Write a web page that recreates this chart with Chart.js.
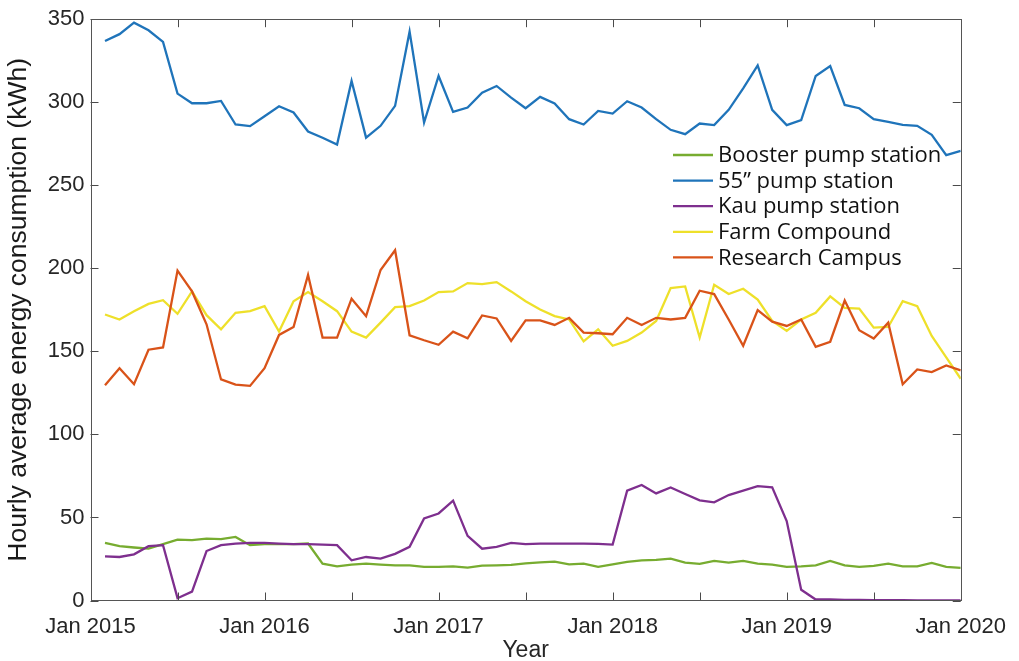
<!DOCTYPE html>
<html>
<head>
<meta charset="utf-8">
<title>Hourly average energy consumption</title>
<script src="https://cdn.jsdelivr.net/npm/chart.js@4.4.1/dist/chart.umd.min.js"></script>
<style>
  html, body { margin: 0; padding: 0; background: #ffffff; }
  #wrap { width: 1019px; height: 661px; }
</style>
</head>
<body>
<div id="wrap"><canvas id="chart" width="1019" height="661"></canvas></div>
<script>
// Monthly readings, Feb 2015 .. Jan 2020 (month index counted from Jan 2015)
const firstMonth = 1;
const yearLabels = ['Jan 2015', 'Jan 2016', 'Jan 2017', 'Jan 2018', 'Jan 2019', 'Jan 2020'];
const seriesNames = ['Booster pump station', '55\u201D pump station', 'Kau pump station', 'Farm Compound', 'Research Campus'];

const boosterPump = [
  34.7, 32.7, 31.9, 31.2, 33.9, 36.7, 36.3, 37.3, 36.9, 38.3, 33.3, 33.9,
  33.9, 33.9, 34.3, 22.2, 20.6, 21.6, 22.2, 21.6, 21.1, 21.2, 20.2, 20.2,
  20.6, 19.8, 21.0, 21.2, 21.4, 22.4, 23.0, 23.4, 21.8, 22.2, 20.2, 21.8,
  23.2, 24.2, 24.4, 25.2, 22.8, 22.0, 23.8, 22.8, 23.8, 22.2, 21.6, 20.2,
  20.6, 21.2, 23.8, 21.2, 20.2, 20.8, 22.2, 20.6, 20.6, 22.6, 20.2, 19.6
];
const pump55 = [
  336.9, 341.0, 347.9, 343.3, 336.3, 305.2, 299.4, 299.4, 300.8, 286.6, 285.6, 291.6,
  297.6, 293.8, 282.4, 278.6, 274.5, 312.8, 278.7, 285.8, 297.8, 342.5, 287.8, 315.8,
  294.2, 296.8, 305.8, 309.8, 302.8, 296.4, 303.2, 299.2, 289.8, 286.6, 294.8, 293.2,
  300.6, 296.8, 289.8, 283.4, 280.8, 287.2, 286.2, 295.4, 308.4, 322.2, 295.4, 286.2,
  289.2, 315.8, 321.8, 298.4, 296.4, 289.8, 288.2, 286.4, 285.8, 280.4, 268.2, 270.7
];
const kauPump = [
  26.6, 26.2, 27.8, 32.7, 33.3, 1.4, 5.4, 29.8, 33.3, 34.3, 34.7, 34.7,
  34.3, 33.9, 33.9, 33.7, 33.3, 24.2, 26.2, 25.2, 28.1, 32.3, 49.4, 52.4,
  60.1, 38.9, 31.2, 32.3, 34.7, 33.9, 34.3, 34.3, 34.3, 34.3, 34.1, 33.7,
  66.1, 69.6, 64.5, 68.1, 64.1, 60.3, 59.1, 63.5, 66.1, 68.9, 68.1, 47.8,
  6.5, 0.6, 0.6, 0.4, 0.4, 0.2, 0.2, 0.2, 0.1, 0.1, 0.1, 0.1
];
const farmCompound = [
  172.2, 169.2, 174.2, 178.6, 180.8, 172.6, 186.1, 171.8, 163.3, 173.2, 174.2, 177.2,
  161.9, 180.2, 185.7, 180.2, 174.2, 161.9, 158.3, 167.3, 176.6, 177.2, 180.6, 185.7,
  186.1, 191.1, 190.5, 191.7, 186.1, 180.2, 175.2, 171.2, 169.2, 156.0, 163.3, 153.4,
  156.3, 161.3, 168.3, 188.1, 189.1, 158.3, 190.1, 184.5, 187.7, 181.2, 168.3, 162.3,
  169.2, 173.2, 183.1, 176.2, 175.8, 164.3, 164.7, 180.2, 177.2, 159.3, 146.4, 133.5
];
const researchCampus = [
  129.6, 139.9, 130.2, 151.0, 152.4, 198.6, 186.1, 166.3, 133.1, 130.0, 129.2, 139.9,
  159.9, 164.7, 196.0, 158.3, 158.3, 181.7, 171.2, 199.0, 210.9, 159.7, 156.7, 154.0,
  161.9, 157.9, 171.6, 169.8, 156.3, 168.7, 168.7, 165.9, 170.2, 161.3, 160.9, 160.3,
  170.2, 165.9, 170.2, 169.2, 170.2, 186.5, 184.5, 169.2, 153.4, 174.8, 167.9, 165.3,
  169.2, 152.8, 155.8, 180.6, 162.7, 157.7, 167.3, 130.2, 139.1, 137.5, 141.5, 138.5
];

const seriesColors = ['#77AC30', '#1F74BA', '#7E2F8E', '#EEE02A', '#D95319'];
const allSeries = [boosterPump, pump55, kauPump, farmCompound, researchCampus];

function toPoints(values) {
  return values.map((v, i) => ({ x: firstMonth + i, y: v }));
}

// Axes box with inward ticks on all four sides
const axesBox = {
  id: 'axesBox',
  afterDatasetsDraw(chart) {
    const { ctx, chartArea: a, scales: { x, y } } = chart;
    const len = 8;
    ctx.save();
    ctx.strokeStyle = '#4a4a4a';
    ctx.lineWidth = 1;
    ctx.beginPath();
    x.ticks.forEach(t => {
      const px = Math.round(x.getPixelForValue(t.value)) + 0.5;
      ctx.moveTo(px, a.bottom); ctx.lineTo(px, a.bottom - len);
      ctx.moveTo(px, a.top); ctx.lineTo(px, a.top + len);
    });
    y.ticks.forEach(t => {
      const py = Math.round(y.getPixelForValue(t.value)) + 0.5;
      ctx.moveTo(a.left, py); ctx.lineTo(a.left + len, py);
      ctx.moveTo(a.right, py); ctx.lineTo(a.right - len, py);
    });
    ctx.stroke();
    ctx.strokeStyle = '#555555';
    ctx.strokeRect(Math.round(a.left) + 0.5, Math.round(a.top) + 0.5,
                   Math.round(a.right - a.left), Math.round(a.bottom - a.top));
    ctx.restore();
  }
};

// Legend drawn inside the plot area, right of centre
const insideLegend = {
  id: 'insideLegend',
  afterDraw(chart) {
    const { ctx } = chart;
    const x0 = 673, x1 = 713, tx = 718, top = 155, step = 25.6;
    ctx.save();
    ctx.font = '22px "Open Sans", sans-serif';
    ctx.textBaseline = 'middle';
    chart.data.datasets.forEach((ds, i) => {
      const yy = top + i * step;
      ctx.strokeStyle = ds.borderColor;
      ctx.lineWidth = 2.3;
      ctx.beginPath(); ctx.moveTo(x0, yy); ctx.lineTo(x1, yy); ctx.stroke();
      ctx.fillStyle = '#111111';
      ctx.fillText(ds.label, tx, yy + 1);
    });
    ctx.restore();
  }
};

new Chart(document.getElementById('chart'), {
  type: 'line',
  data: {
    datasets: allSeries.map((vals, i) => ({
      label: seriesNames[i],
      data: toPoints(vals),
      borderColor: seriesColors[i],
      backgroundColor: seriesColors[i],
      borderWidth: 2.3,
      pointRadius: 0,
      tension: 0,
      order: -i
    }))
  },
  options: {
    responsive: false,
    animation: false,
    devicePixelRatio: 1,
    layout: { padding: { top: 17.5, right: 46.3, left: 0, bottom: 0 } },
    plugins: { legend: { display: false }, tooltip: { enabled: false } },
    scales: {
      x: {
        type: 'linear',
        min: 0,
        max: 60,
        grid: { display: false, drawTicks: false },
        border: { display: false },
        afterFit(scale) { scale.height = 60.5; },
        ticks: {
          stepSize: 6,
          autoSkip: false,
          maxRotation: 0,
          padding: 13,
          color: '#262626',
          font: { family: '"Liberation Sans", Arial, sans-serif', size: 22 },
          callback: v => (v % 12 === 0 ? yearLabels[v / 12] : '')
        },
        title: {
          display: true,
          text: 'Year',
          color: '#262626',
          padding: { top: 5, bottom: 0 },
          font: { family: '"Liberation Sans", Arial, sans-serif', size: 23, lineHeight: 0.9 }
        }
      },
      y: {
        min: 0,
        max: 350,
        grid: { display: false, drawTicks: false },
        border: { display: false },
        afterFit(scale) { scale.width = 90.5; },
        ticks: {
          stepSize: 50,
          padding: 6,
          color: '#262626',
          font: { family: '"Liberation Sans", Arial, sans-serif', size: 22 }
        },
        title: {
          display: true,
          text: 'Hourly average energy consumption (kWh)',
          color: '#1a1a1a',
          padding: { top: 3, bottom: 0 },
          font: { family: '"Liberation Sans", Arial, sans-serif', size: 26.5 }
        }
      }
    }
  },
  plugins: [axesBox, insideLegend]
});
</script>
</body>
</html>
